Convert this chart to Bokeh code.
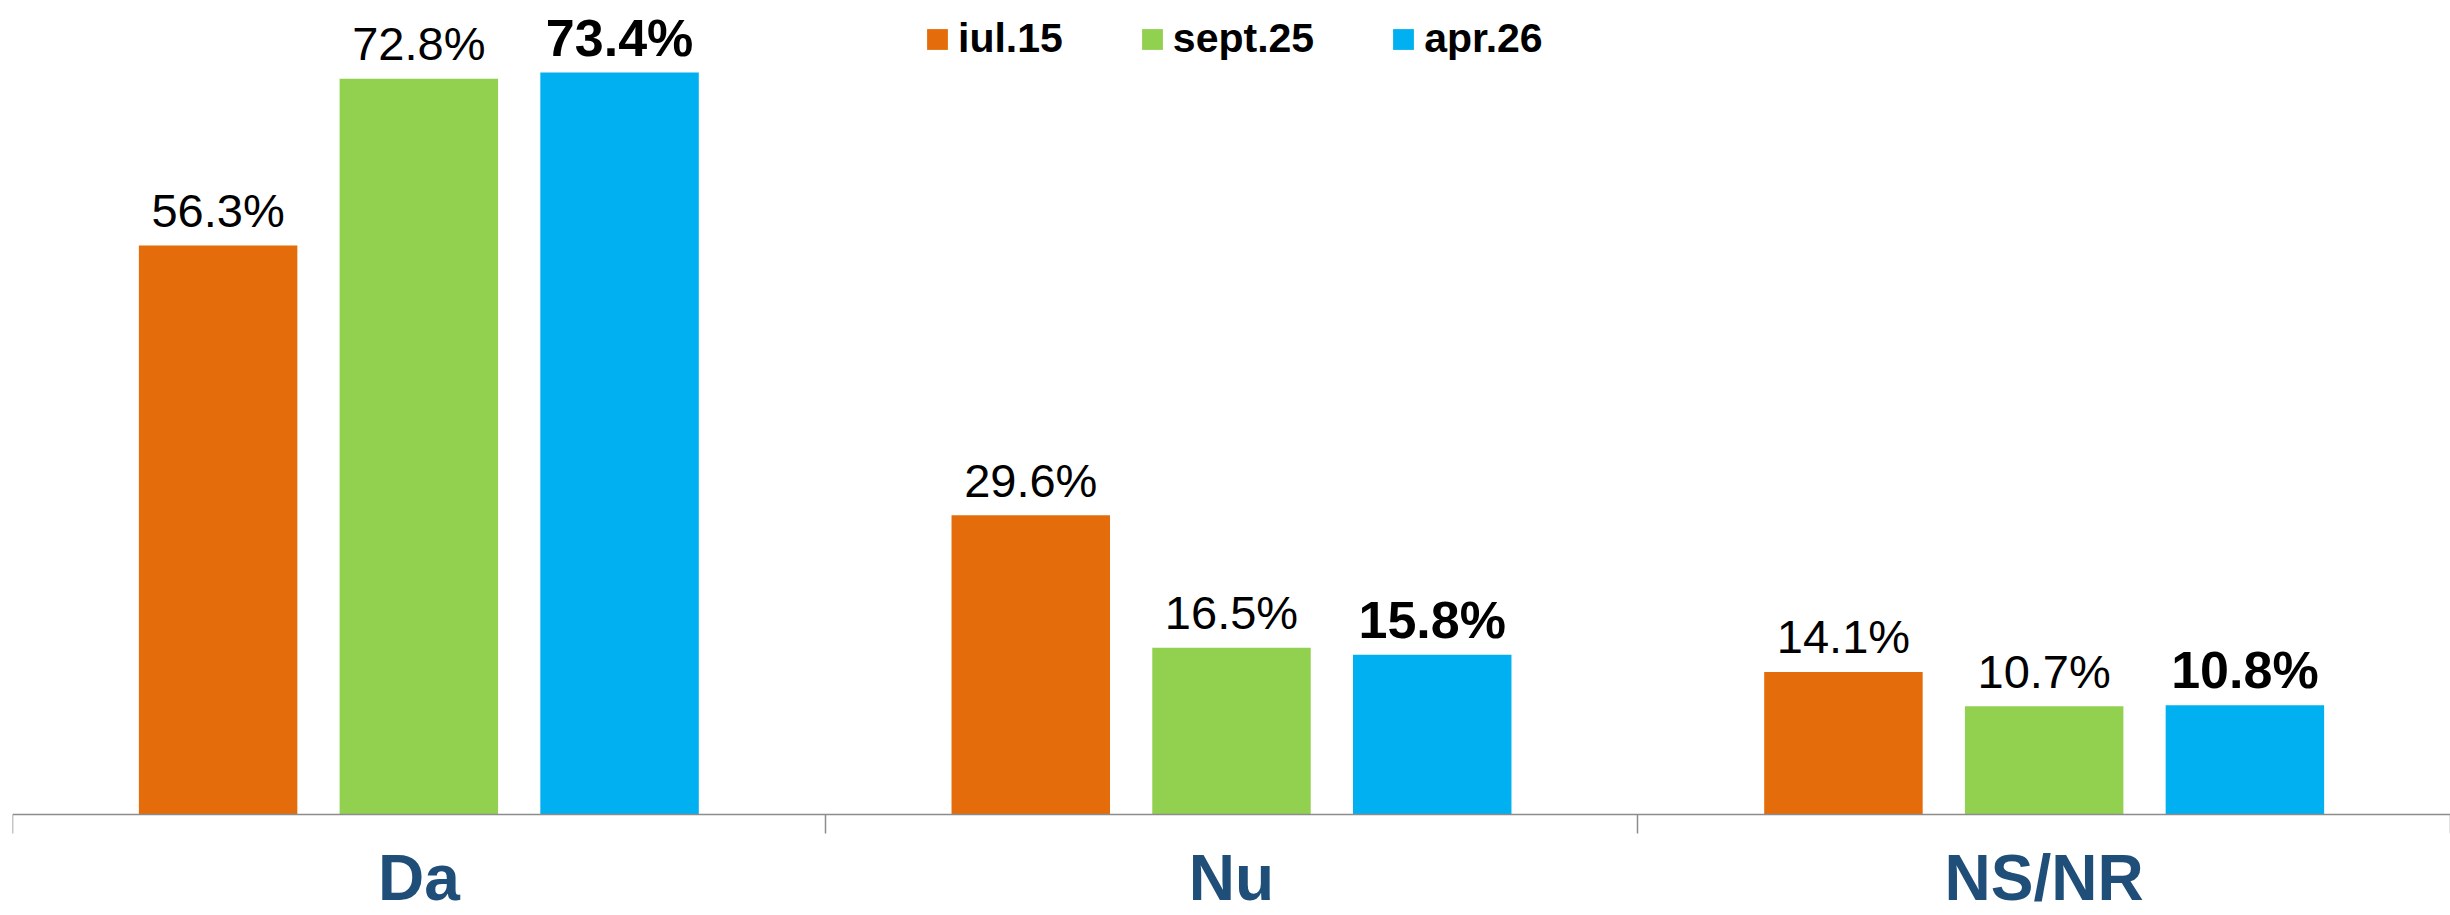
from bokeh.plotting import figure
from bokeh.models import ColumnDataSource, Range1d, FixedTicker, Legend, LegendItem
from bokeh.core.properties import value
from bokeh.embed import file_html
from bokeh.resources import INLINE

# ---- data ----
categories = ["Da", "Nu", "NS/NR"]
series_names = ["iul.15", "sept.25", "apr.26"]
iul15 = [56.3, 29.6, 14.1]
sept25 = [72.8, 16.5, 10.7]
apr26 = [73.4, 15.8, 10.8]
series_values = [iul15, sept25, apr26]
colors = ["#E46C0A", "#92D050", "#00B0F0"]
bold_series = [False, False, True]

# ---- layout constants ----
offsets = [-0.247, 0.0, 0.247]
bar_w = 0.195
centers = [i + 0.5 for i in range(len(categories))]
bounds = [float(i) for i in range(len(categories) + 1)]

p = figure(width=2450, height=915,
           x_range=Range1d(0, len(categories)),
           y_range=Range1d(-9.99, 80.53),
           output_backend="svg", toolbar_location=None,
           y_axis_location=None,
           min_border_left=12, min_border_right=0,
           min_border_top=0, min_border_bottom=0)
p.outline_line_color = None
p.xgrid.visible = False
p.ygrid.visible = False
p.background_fill_color = "white"
p.border_fill_color = "white"

renderers = []
for name, vals, col, off, bold in zip(series_names, series_values, colors, offsets, bold_series):
    src = ColumnDataSource(dict(
        x=[c + off for c in centers],
        top=vals,
        label=[f"{v:.1f}%" for v in vals],
    ))
    r = p.vbar(x="x", top="top", bottom=0, width=bar_w, source=src,
               fill_color=col, line_color=None)
    renderers.append(r)
    p.text(x="x", y="top", text="label", source=src,
           text_align="center", text_baseline="alphabetic", y_offset=-35,
           text_font=value("Liberation Sans"),
           text_font_style="bold" if bold else "normal",
           text_font_size="52px" if bold else "47px",
           text_color="black")

# ---- x axis ----
ax = p.xaxis[0]
ax.fixed_location = 0
ax.ticker = FixedTicker(ticks=centers, minor_ticks=bounds)
ax.major_label_overrides = {c: lab for c, lab in zip(centers, categories)}
ax.axis_line_color = "#8C8C8C"
ax.axis_line_width = 1.5
ax.major_tick_line_color = None
ax.major_tick_out = 0
ax.major_tick_in = 0
ax.minor_tick_line_color = "#8C8C8C"
ax.minor_tick_line_width = 1.5
ax.minor_tick_out = 19
ax.minor_tick_in = 0
ax.major_label_standoff = 8
ax.major_label_text_font = "Liberation Sans"
ax.major_label_text_font_style = "bold"
ax.major_label_text_font_size = "64px"
ax.major_label_text_color = "#1F4E79"

# ---- legend ----
legend = Legend(
    items=[LegendItem(label=n, renderers=[r]) for n, r in zip(series_names, renderers)],
    orientation="horizontal",
    location=(912, 853),
    glyph_width=26, glyph_height=26,
    label_standoff=8, spacing=76,
    padding=0, margin=0,
    border_line_color=None, background_fill_alpha=0,
    label_text_font="Liberation Sans", label_text_font_style="bold",
    label_text_font_size="41px", label_text_color="black",
)
p.add_layout(legend, "center")

open("out.html", "w").write(file_html(p, INLINE))
